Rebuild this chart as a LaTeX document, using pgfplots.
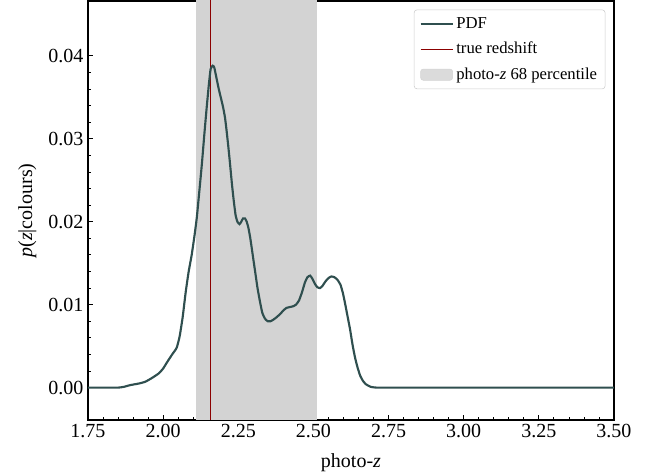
\documentclass[border=0pt]{standalone}
\usepackage{fontspec}
\setmainfont{Liberation Serif}
\usepackage{pgfplots}
\pgfplotsset{compat=1.18}
\definecolor{pdfcol}{HTML}{2F4F4F}
\definecolor{truecol}{HTML}{8B0000}
\definecolor{bandcol}{HTML}{D3D3D3}
\begin{document}
\begin{tikzpicture}
\useasboundingbox (-66pt,-40.5pt) rectangle (424.5pt,315pt);
\begin{axis}[
  at={(0,0)}, anchor=south west,
  scale only axis,
  width=394.5pt, height=314.25pt,
  xmin=1.75, xmax=3.50,
  ymin=-0.0039, ymax=0.0466,
  xtick={1.75,2.00,2.25,2.50,2.75,3.00,3.25,3.50},
  ytick={0,0.01,0.02,0.03,0.04},
  minor x tick num=4,
  minor y tick num=4,
  tick align=inside,
  tick pos=left,
  major tick length=3.75pt,
  minor tick length=2.2pt,
  every tick/.style={black, line width=0.6pt},
  axis line style={line width=0.8pt},
  scaled y ticks=false,
  /pgf/number format/assume math mode=true,
  xticklabel style={/pgf/number format/.cd, fixed, fixed zerofill, precision=2},
  yticklabel style={/pgf/number format/.cd, fixed, fixed zerofill, precision=2},
  tick label style={font=\fontsize{15}{17}\selectfont},
  label style={font=\fontsize{15}{17}\selectfont},
  xlabel={photo-\textit{z}},
  ylabel={\textit{p}(\textit{z}|colours)},
  xlabel style={yshift=-5pt},
  ylabel style={yshift=2pt},
  legend cell align=left,
  legend style={at={(axis description cs:1,1)}, anchor=north east,
    xshift=-6.5pt, yshift=-6.5pt,
    font=\fontsize{12.5}{14}\selectfont,
    draw=black!20, rounded corners=2pt, fill=white, fill opacity=0.8, text opacity=1,
    row sep=5pt, inner xsep=4pt, inner ysep=3.5pt},
]
\pgfplotstableread{
z p
1.75 0.0000
1.80 0.0000
1.85 0.0000
1.87 0.0001
1.89 0.0003
1.92 0.0005
1.94 0.0007
1.96 0.0011
1.985 0.0017
2.00 0.0023
2.012 0.0030
2.03 0.0040
2.045 0.0048
2.055 0.0062
2.065 0.0085
2.075 0.0115
2.085 0.0140
2.095 0.0160
2.105 0.0185
2.112 0.0205
2.12 0.0235
2.129 0.0270
2.137 0.0305
2.145 0.0338
2.152 0.0365
2.158 0.0384
2.165 0.0388
2.17 0.0386
2.177 0.0374
2.185 0.0360
2.193 0.0348
2.20 0.0337
2.206 0.0325
2.211 0.0310
2.217 0.0290
2.223 0.0268
2.229 0.0245
2.235 0.0225
2.241 0.0208
2.247 0.0200
2.254 0.0197
2.260 0.0200
2.266 0.0204
2.272 0.0204
2.278 0.0200
2.284 0.0192
2.290 0.0180
2.298 0.0160
2.306 0.0140
2.314 0.0120
2.322 0.0104
2.330 0.0090
2.339 0.0083
2.348 0.0080
2.357 0.0080
2.367 0.0082
2.378 0.0085
2.39 0.0089
2.40 0.0093
2.41 0.0096
2.42 0.0097
2.432 0.0098
2.442 0.0100
2.452 0.0105
2.462 0.0115
2.472 0.0127
2.480 0.0133
2.489 0.0135
2.497 0.0131
2.505 0.0125
2.513 0.0121
2.522 0.0120
2.531 0.0123
2.540 0.0128
2.550 0.0132
2.560 0.0134
2.570 0.0133
2.580 0.0130
2.590 0.0124
2.598 0.0114
2.605 0.0102
2.613 0.0087
2.622 0.0070
2.630 0.0052
2.638 0.0037
2.647 0.0024
2.656 0.0014
2.665 0.0008
2.675 0.0004
2.690 0.0001
2.71 0.0000
2.75 0.0000
3.50 0.0000
}\pdftable
\addplot[fill=bandcol, draw=none, forget plot] coordinates {(2.109,-0.1) (2.109,0.1) (2.511,0.1) (2.511,-0.1)} -- cycle;
\addplot[truecol, line width=0.75pt, forget plot] coordinates {(2.158,-0.1) (2.158,0.1)};
\addplot[pdfcol, line width=1.6pt, smooth, tension=0.3, forget plot] table[x=z, y=p] {\pdftable};
\addlegendimage{legend image code/.code={\draw[pdfcol, line width=1.6pt] (0pt,0pt) -- (24pt,0pt);}}
\addlegendentry{PDF}
\addlegendimage{legend image code/.code={\draw[truecol, line width=0.75pt] (0pt,0pt) -- (24pt,0pt);}}
\addlegendentry{true redshift}
\addlegendimage{legend image code/.code={\fill[bandcol] (0pt,-4.2pt) rectangle (24pt,4.2pt);}}
\addlegendentry{photo-\textit{z} 68 percentile}
\end{axis}
\end{tikzpicture}
\end{document}
